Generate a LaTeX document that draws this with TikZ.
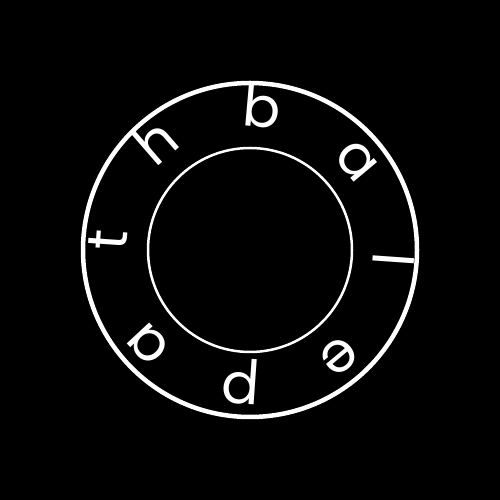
\documentclass[tikz,border=0pt]{standalone}
\usepackage{fontspec}
\setmainfont{Poppins}
\usetikzlibrary{calc}
\begin{document}
\begin{tikzpicture}[x=1pt,y=1pt,
  letter/.style={text=white,font=\fontsize{56}{56}\selectfont,inner sep=0pt,anchor=base},
  ring/.style={draw=white,fill=none}]
\fill[black] (0,0) rectangle (500,500);
\useasboundingbox (0,0) rectangle (500,500);
\coordinate (c) at (250,250);
\draw[ring,line width=4.5pt] (c) circle (167);
\draw[ring,line width=2.5pt] (c) circle (102);
\foreach \l/\a [count=\i] in {b/85,a/40,l/-4,e/-50,p/-94,a/-137,t/176,h/131}{
  \node[letter,rotate=\a-90] (l\i) at ($(c)+(\a:123)$) {\l};
}
\end{tikzpicture}
\end{document}
